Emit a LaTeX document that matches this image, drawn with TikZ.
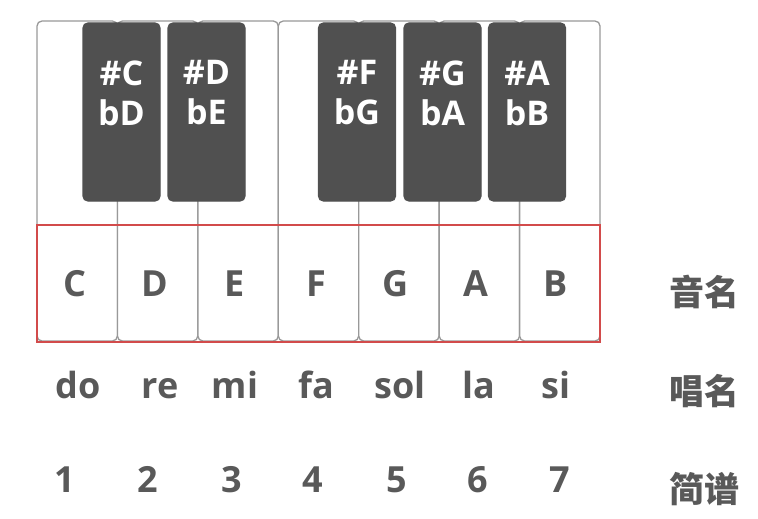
\documentclass[tikz,border=0pt]{standalone}
\usepackage{fontspec}
\setmainfont{Open Sans}
\newfontfamily\cjk{Noto Sans CJK SC}
\usetikzlibrary{positioning}
\definecolor{ckeyline}{HTML}{999999}
\definecolor{cblack}{HTML}{505050}
\definecolor{ctext}{HTML}{595959}
\definecolor{cred}{HTML}{D24B4B}
\tikzset{
  every picture/.style={line width=1.3pt},
  whitekey/.style={draw=ckeyline, fill=white, rounded corners=5pt, minimum width=80.4pt, minimum height=320pt, inner sep=0pt},
  blackkey/.style={draw=cblack, fill=cblack, rounded corners=5pt, minimum width=77pt, minimum height=178pt, inner sep=0pt},
  redbox/.style={draw=cred, line width=1.2pt, minimum width=563pt, minimum height=117pt, inner sep=0pt},
  sharp/.style={font=\bfseries\fontsize{34}{40}\selectfont, text=white, align=center, inner sep=0pt},
  notename/.style={font=\bfseries\fontsize{36}{40}\selectfont, text=ctext, anchor=base, inner sep=0pt},
  rowlabel/.style={font=\cjk\bfseries\fontsize{35}{40}\selectfont, text=ctext, anchor=base, inner sep=0pt},
}

\begin{document}
\begin{tikzpicture}[x=1pt, y=-1pt]
  \useasboundingbox (0,0) rectangle (758,519);
  % white keys
  \node[whitekey] (wc) at (77.2,181) {};
  \node[whitekey] (wd) at (157.6,181) {};
  \node[whitekey] (we) at (238.1,181) {};
  \node[whitekey] (wf) at (318.5,181) {};
  \node[whitekey] (wg) at (398.9,181) {};
  \node[whitekey] (wa) at (479.4,181) {};
  \node[whitekey] (wb) at (559.8,181) {};
  \node[redbox] (names) at (318.5,283.5) {};
  % black keys
  \node[blackkey] (bcs) at (121.5,112) {};
  \node[blackkey] (bds) at (206.5,112) {};
  \node[blackkey] (bfs) at (357,112) {};
  \node[blackkey] (bgs) at (442.5,112) {};
  \node[blackkey] (bas) at (527,112) {};
  \node[sharp] at (bcs.center |- 0,93) {\#C\\bD};
  \node[sharp] at (bds.center |- 0,93) {\#D\\bE};
  \node[sharp] at (bfs.center |- 0,93) {\#F\\bG};
  \node[sharp] at (bgs.center |- 0,93) {\#G\\bA};
  \node[sharp] at (bas.center |- 0,93) {\#A\\bB};
  % note names
  \node[notename] (nc) at (75,296) {C};
  \node[notename] (nd) at (155,296) {D};
  \node[notename] (ne) at (235,296) {E};
  \node[notename] (nf) at (316,296) {F};
  \node[notename] (ng) at (396,296) {G};
  \node[notename] (na) at (476,296) {A};
  \node[notename] (nb) at (556,296) {B};
  % solfege
  \node[notename] (sdo) at (78,398) {do};
  \node[notename] (sre) at (160,398) {re};
  \node[notename] (smi) at (235,398) {mi};
  \node[notename] (sfa) at (316,398) {fa};
  \node[notename] (ssol) at (400,398) {sol};
  \node[notename] (sla) at (479,398) {la};
  \node[notename] (ssi) at (556,398) {si};
  % numbers
  \node[notename] (n1) at (65,492) {1};
  \node[notename] (n2) at (148,492) {2};
  \node[notename] (n3) at (232,492) {3};
  \node[notename] (n4) at (313,492) {4};
  \node[notename] (n5) at (397,492) {5};
  \node[notename] (n6) at (478,492) {6};
  \node[notename] (n7) at (560,492) {7};
  % row labels
  \node[rowlabel] (lnames) at (704,305) {音名};
  \node[rowlabel] (lsolfege) at (704,404) {唱名};
  \node[rowlabel] (lnumbers) at (704,502) {简谱};
\end{tikzpicture}
\end{document}
